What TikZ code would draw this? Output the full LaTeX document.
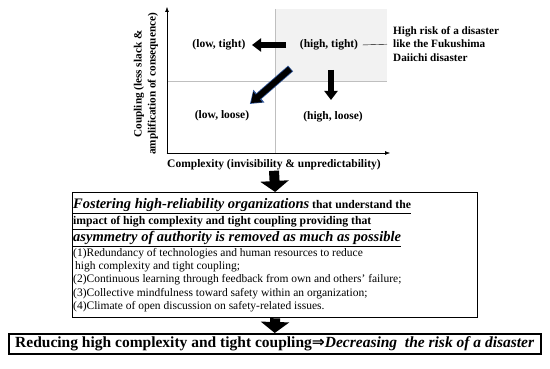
\documentclass[tikz,border=0pt]{standalone}
\usepackage{fontspec}
\setmainfont{Liberation Serif}
\newfontfamily\arrowfont{DejaVu Sans}
\usepackage{xcolor}
\usepackage{tikz}
\usetikzlibrary{arrows.meta}
\definecolor{lightshade}{HTML}{F2F2F2}
\definecolor{gridgray}{HTML}{BFBFBF}
\definecolor{edgeblue}{HTML}{2F5597}

\begin{document}
\begin{tikzpicture}[x=1pt, y=-1pt, font=\fontsize{11.5}{13}\selectfont\bfseries,
  blockarr/.style={line width=6pt, -{Triangle[length=9pt,width=13pt]}},
  bigarr/.style={line width=10pt, -{Triangle[length=11pt,width=28pt]}}]

\useasboundingbox (0,0) rectangle (550,369);

% complexity / coupling matrix
\fill[lightshade] (275,9) rectangle (387,81);
\draw[gridgray] (275,9) -- (275,153);
\draw[gridgray] (167,81) -- (387,81);
\draw[-{Latex[length=5pt]}] (167,153.5) -- (167,7);
\draw[-{Latex[length=5pt]}] (166.5,153) -- (390,153);

\node[rotate=90, align=center, font=\fontsize{11.2}{14}\selectfont\bfseries] (ylab) at (146,84) {Coupling (less slack \&\\amplification of consequence)};
\node (xlab) at (274,165) {Complexity (invisibility \& unpredictability)};

\node (lt) at (219,45) {(low, tight)};
\node (ht) at (329,45) {(high, tight)};
\node (ll) at (222,116) {(low, loose)};
\node (hl) at (333,117) {(high, loose)};

\node[anchor=west, align=left, inner sep=0, font=\fontsize{11.2}{13.5}\selectfont\bfseries] (risk) at (393,44) {High risk of a disaster\\like the Fukushima\\Daiichi disaster};
\draw[shorten <=1pt, shorten >=6pt] (ht.east) -- (risk.west);

% moves out of (high, tight)
\coordinate (lfts) at (286,45);
\coordinate (lfte) at (252,45);
\coordinate (dwns) at (331,70);
\coordinate (dwne) at (331,100);
\coordinate (dgs) at (290,69);
\coordinate (dge) at (251,103);
\draw[blockarr] (lfts) -- (lfte);
\draw[blockarr] (dwns) -- (dwne);
\draw[edgeblue, line width=7.6pt, -{Triangle[length=12pt,width=16pt]}, shorten <=-0.8pt, shorten >=-1.5pt] (dgs) -- (dge);
\draw[blockarr] (dgs) -- (dge);

% high-reliability organizations
\node[draw, line width=1.3pt, minimum width=405pt, minimum height=125pt, anchor=north west] (hro) at (72,192) {};
\node[anchor=north west, align=left, inner sep=0, font=\fontsize{11.7}{16.5}\selectfont\bfseries] (hrotitle) at (73,198)
  {\underline{{\fontsize{14.5}{16}\selectfont\itshape Fostering high-reliability organizations} that understand the}\\
   \underline{impact of high complexity and tight coupling providing that}\\
   \underline{\fontsize{14.5}{16}\selectfont\itshape asymmetry of authority is removed as much as possible}};
\node[anchor=north west, align=left, inner sep=0, font=\fontsize{11.5}{13.3}\selectfont\mdseries] (hrolist) at (73,248)
  {(1)Redundancy of technologies and human resources to reduce\\
   \hspace{2pt}high complexity and tight coupling;\\
   (2)Continuous learning through feedback from own and others' failure;\\
   (3)Collective mindfulness toward safety within an organization;\\
   (4)Climate of open discussion on safety-related issues.};

\node[draw, line width=1.5pt, minimum width=532pt, minimum height=20pt, anchor=north west, inner sep=0, font=\fontsize{15.5}{17}\selectfont\bfseries] (result) at (8,333)
  {Reducing high complexity and tight coupling{\arrowfont ⇒}\textit{Decreasing\ \ the risk of a disaster}};

\draw[bigarr] ([yshift=3pt]xlab.south) -- (hro.north);
\draw[bigarr] (hro.south) -- (result.north);

\end{tikzpicture}
\end{document}
